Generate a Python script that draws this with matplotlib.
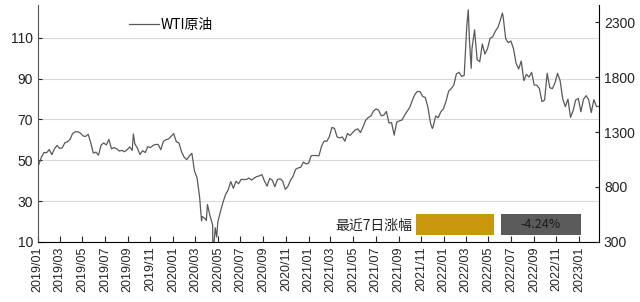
import numpy as np
import pandas as pd
import matplotlib
matplotlib.use("Agg")
import matplotlib.pyplot as plt
import matplotlib.dates as mdates
from matplotlib.patches import Rectangle

plt.rcParams['font.family'] = ['Liberation Sans', 'Noto Sans CJK SC', 'DejaVu Sans']

# WTI weekly closes (Fridays)
wti_2019 = [47.96, 51.59, 53.80, 53.69, 55.26, 52.72, 55.59, 57.26, 55.80, 56.07,
            58.52, 59.04, 60.14, 63.08, 63.89, 64.00, 63.30, 61.94, 61.66, 62.76,
            58.63, 53.50, 53.99, 52.51, 57.43, 58.47, 57.51, 60.21, 55.63, 56.20,
            55.66, 54.50, 54.87, 54.17, 55.10, 56.52, 54.85, 58.09, 55.91, 52.81,
            54.70, 53.78, 56.66, 56.20, 57.24, 57.72, 57.77, 55.17, 59.20, 60.07,
            60.44, 61.72]
wti_2020 = [63.05, 59.04, 58.54, 54.19, 51.56, 50.32, 52.05, 53.38, 44.76, 41.28,
            31.73, 22.43, 21.51, 28.34, 22.76, 18.27, 16.94, 19.78, 24.74, 29.43,
            33.25, 35.49, 39.55, 36.26, 39.75, 38.49, 40.65, 40.55, 40.59, 41.29,
            40.27, 41.22, 42.01, 42.34, 42.97, 39.77, 37.33, 41.11, 40.25, 37.05,
            40.60, 40.88, 39.85, 35.79, 37.14, 40.13, 42.15, 45.53, 46.26, 46.57,
            49.10, 48.23, 48.52]
wti_2021 = [52.24, 52.36, 52.27, 52.20, 56.85, 59.47, 59.24, 61.50, 66.09, 65.61,
            61.42, 60.97, 61.45, 59.32, 63.13, 62.14, 63.58, 64.90, 65.37, 63.58,
            66.32, 69.62, 70.91, 71.64, 74.05, 75.16, 74.56, 71.81, 72.07, 73.95,
            68.28, 68.44, 62.32, 68.74, 69.29, 69.72, 71.97, 73.98, 75.88, 79.35,
            82.28, 83.76, 83.57, 81.27, 80.79, 76.10, 68.15, 66.26, 71.67, 70.86,
            73.79, 75.21]
wti_2022 = [78.90, 83.82, 85.14, 86.82, 92.31, 93.10, 91.07, 91.59, 115.68, 109.33,
            104.70, 113.90, 99.27, 98.26, 106.95, 102.07, 104.69, 109.77, 110.49, 113.23,
            115.07, 118.87, 120.67, 109.56, 107.62, 108.43, 104.79, 97.59, 94.70, 98.62,
            89.01, 92.09, 90.77, 93.06, 86.87, 86.79, 85.11, 78.74, 79.49, 92.64,
            85.61, 85.05, 87.90, 92.61, 88.96, 80.08, 76.28, 79.98, 71.02, 74.29,
            79.56, 80.26]
wti_2023 = [73.77, 79.86, 81.64, 79.68, 73.39, 79.72, 76.34, 76.32]

# a few daily extremes between the weekly points
extra_dates = ['2020-03-18', '2020-03-31', '2020-04-20', '2020-04-21', '2020-04-28',
               '2021-12-01', '2022-03-08', '2022-03-16', '2022-06-08', '2019-09-16']
extra_vals = [20.37, 20.48, -37.63, 10.01, 12.34,
              65.57, 123.70, 95.04, 122.11, 62.90]

change_7d = -4.24

weekly = wti_2019 + wti_2020 + wti_2021 + wti_2022 + wti_2023
s = pd.Series(weekly, index=pd.date_range('2019-01-04', periods=len(weekly), freq='W-FRI'))
s = pd.concat([s, pd.Series(extra_vals, index=pd.to_datetime(extra_dates))]).sort_index()

fig = plt.figure(figsize=(6.4, 3.02), dpi=100)
ax = fig.add_axes([0.059, 0.199, 0.877, 0.784])
ax.plot(s.index, s.values, color='#595959', lw=0.9)

ax.set_ylim(10, 126)
ax.set_yticks([10, 30, 50, 70, 90, 110])
ax.grid(axis='y', color='#d9d9d9', lw=0.8)
ax.set_axisbelow(True)
ax.set_xlim(pd.Timestamp('2019-01-01'), pd.Timestamp('2023-02-24'))
ax.xaxis.set_major_locator(mdates.MonthLocator(bymonth=[1, 3, 5, 7, 9, 11]))
ax.xaxis.set_major_formatter(mdates.DateFormatter('%Y/%m'))
for lab in ax.get_xticklabels():
    lab.set_rotation(90)
ax.tick_params(axis='x', direction='in', length=4, labelsize=9, colors='#222222')
ax.tick_params(axis='y', direction='in', length=3, labelsize=10, colors='#222222')
ax.spines['top'].set_visible(False)
ax.spines['right'].set_visible(False)
ax.spines['left'].set_color('#555555')

ax2 = ax.twinx()
ax2.set_ylim(300, 2455)
ax2.set_yticks([300, 800, 1300, 1800, 2300])
ax2.tick_params(axis='y', direction='in', length=3, labelsize=10, colors='#222222')
ax2.spines['top'].set_visible(False)
ax2.spines['left'].set_visible(False)
ax2.spines['bottom'].set_visible(False)

ax.legend(['WTI原油'], loc='upper left', bbox_to_anchor=(0.14, 1.0), frameon=False,
          handlelength=2.2, handletextpad=0.1, prop={'family': 'Noto Sans CJK SC', 'size': 10})

# 7-day change box
fig.text(0.644, 0.253, '最近7日涨幅', ha='right', va='center', fontsize=10,
         family='Noto Sans CJK SC', color='#222222')
fig.patches.append(Rectangle((0.650, 0.222), 0.122, 0.070, transform=fig.transFigure,
                             facecolor='#c9970c', edgecolor='none'))
fig.patches.append(Rectangle((0.783, 0.222), 0.125, 0.070, transform=fig.transFigure,
                             facecolor='#5b5b5b', edgecolor='none'))
fig.text(0.845, 0.257, f'{change_7d:.2f}%', ha='center', va='center', fontsize=9,
         color='#1a1a1a', family='Noto Sans CJK SC')

fig.savefig('out.png', dpi=100)
